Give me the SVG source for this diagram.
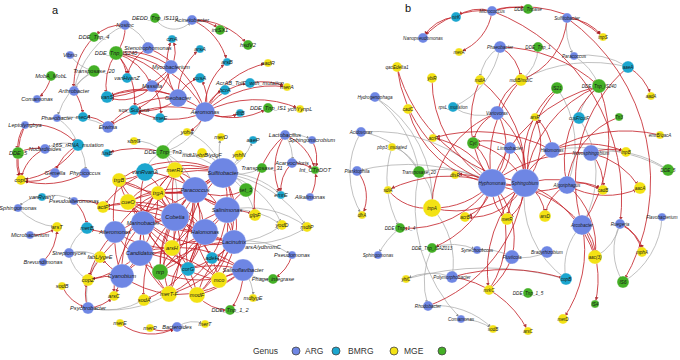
<svg xmlns="http://www.w3.org/2000/svg" width="680" height="360" viewBox="0 0 680 360">
<style>
.e{fill:none;stroke:#c42027;stroke-width:.95;opacity:.85;marker-end:url(#ar)}
.g{fill:none;stroke:#a6a6a6;stroke-width:.7;marker-end:url(#ag)}
.B{fill:#6e86e4}.C{fill:#1ba6cf}.Y{fill:#f3e214}.G{fill:#44b026}
circle{stroke:#ffffff;stroke-width:.3}
.t{font-family:"Liberation Sans",Arial,sans-serif;font-style:italic;font-size:5.6px;fill:#1a1a1a;text-anchor:middle;dominant-baseline:central}
.s{font-size:4.6px}
.L{font-family:"Liberation Sans",Arial,sans-serif;font-size:8.5px;fill:#333}
.P{font-family:"Liberation Sans",Arial,sans-serif;font-size:11px;fill:#111}
.lg{stroke:#444;stroke-width:.8}
</style>
<defs>
<marker id="ar" viewBox="0 0 6 6" refX="12" refY="3" markerWidth="3.6" markerHeight="3.6" markerUnits="userSpaceOnUse" orient="auto"><path d="M0,0 L6,3 L0,6z" fill="#a3161c"/></marker>
<marker id="ag" viewBox="0 0 6 6" refX="12" refY="3" markerWidth="3" markerHeight="3" markerUnits="userSpaceOnUse" orient="auto"><path d="M0,0 L6,3 L0,6z" fill="#8a8a8a"/></marker>
</defs>
<rect width="680" height="360" fill="#ffffff"/>
<text class="P" x="52" y="14">a</text>
<text class="P" x="405" y="12">b</text>
<g id="connectors">
<path class="g" d="M155,18 A22,22 0 0 0 192,20"/>
<path class="g" d="M70,55 A40,40 0 0 0 94,71"/>
<path class="g" d="M94,71 A40,40 0 0 0 74,91"/>
<path class="g" d="M94,71 A80,80 0 0 0 57,118"/>
<path class="g" d="M74,91 A90,90 0 0 1 125,25"/>
<path class="g" d="M125,25 A40,40 0 0 1 148,48"/>
<path class="g" d="M57,118 A50,50 0 0 1 78,145"/>
<path class="g" d="M57,118 A80,80 0 0 1 108,127"/>
<path class="g" d="M78,145 A40,40 0 0 0 45,149"/>
<path class="g" d="M78,145 A40,40 0 0 1 85,173"/>
<path class="g" d="M163,152 A40,40 0 0 0 134,141"/>
<path class="g" d="M163,152 A60,60 0 0 1 195,190"/>
<path class="g" d="M163,152 A80,80 0 0 1 223,173"/>
<path class="g" d="M163,152 A30,30 0 0 0 145,172"/>
<path class="g" d="M163,152 A30,30 0 0 1 175,170"/>
<path class="g" d="M163,152 A80,80 0 0 1 175,217"/>
<path class="g" d="M163,152 A60,60 0 0 0 205,112"/>
<path class="g" d="M187,132 A40,40 0 0 0 163,152"/>
<path class="g" d="M223,173 A60,60 0 0 1 221,137"/>
<path class="g" d="M223,173 A60,60 0 0 0 253,140"/>
<path class="g" d="M223,173 A30,30 0 0 0 239,155"/>
<path class="g" d="M223,173 A60,60 0 0 0 262,168"/>
<path class="g" d="M223,173 A80,80 0 0 1 281,195"/>
<path class="g" d="M223,173 A60,60 0 0 1 255,215"/>
<path class="g" d="M223,173 A90,90 0 0 1 282,225"/>
<path class="g" d="M223,173 A120,120 0 0 1 307,227"/>
<path class="g" d="M223,173 A30,30 0 0 1 246,190"/>
<path class="g" d="M223,173 A30,30 0 0 0 202,153"/>
<path class="g" d="M223,173 A60,60 0 0 0 187,132"/>
<path class="g" d="M227,210 A80,80 0 0 1 282,225"/>
<path class="g" d="M227,210 A100,100 0 0 1 307,227"/>
<path class="g" d="M234,242 A80,80 0 0 0 282,225"/>
<path class="g" d="M234,242 A100,100 0 0 0 307,227"/>
<path class="g" d="M234,242 A80,80 0 0 1 292,255"/>
<path class="g" d="M285,135 A40,40 0 0 1 292,163"/>
<path class="g" d="M285,135 A40,40 0 0 1 312,140"/>
<path class="g" d="M243,270 A40,40 0 0 1 253,298"/>
<path class="g" d="M243,270 A40,40 0 0 0 273,279"/>
<path class="g" d="M177,327 A30,30 0 0 1 205,324"/>
<path class="g" d="M88,308 A60,60 0 0 1 100,257"/>
<path class="g" d="M88,308 A120,120 0 0 0 169,294"/>
<path class="g" d="M88,308 A80,80 0 0 0 144,300"/>
<path class="g" d="M69,253 A40,40 0 0 0 88,280"/>
<path class="g" d="M69,253 A40,40 0 0 1 100,257"/>
<path class="g" d="M69,253 A40,40 0 0 1 87,228"/>
<path class="g" d="M18,208 A60,60 0 0 0 57,227"/>
<path class="g" d="M42,197 A40,40 0 0 1 74,201"/>
<path class="g" d="M42,197 A30,30 0 0 0 18,208"/>
<path class="e" d="M125,25 A40,40 0 0 0 94,37"/>
<path class="e" d="M125,25 A40,40 0 0 1 116,53"/>
<path class="e" d="M192,20 A40,40 0 0 1 220,30"/>
<path class="e" d="M192,20 A70,70 0 0 1 248,45"/>
<path class="e" d="M192,20 A60,60 0 0 1 227,62"/>
<path class="e" d="M94,37 A70,70 0 0 0 74,91"/>
<path class="e" d="M51,76 A40,40 0 0 1 37,99"/>
<path class="e" d="M74,91 A50,50 0 0 1 83,117"/>
<path class="e" d="M116,53 A70,70 0 0 1 171,67"/>
<path class="e" d="M116,53 A60,60 0 0 1 152,86"/>
<path class="e" d="M116,53 A90,90 0 0 1 178,98"/>
<path class="e" d="M116,53 A110,110 0 0 1 205,112"/>
<path class="e" d="M116,53 A70,70 0 0 1 134,110"/>
<path class="e" d="M116,53 A60,60 0 0 0 107,97"/>
<path class="e" d="M116,53 A40,40 0 0 1 127,78"/>
<path class="e" d="M148,48 A40,40 0 0 0 127,78"/>
<path class="e" d="M148,48 A100,100 0 0 1 205,112"/>
<path class="e" d="M171,67 A30,30 0 0 1 152,86"/>
<path class="e" d="M171,67 A90,90 0 0 1 107,97"/>
<path class="e" d="M171,67 A60,60 0 0 1 134,110"/>
<path class="e" d="M178,98 A80,80 0 0 0 107,97"/>
<path class="e" d="M178,98 A50,50 0 0 1 134,110"/>
<path class="e" d="M152,86 A40,40 0 0 1 107,97"/>
<path class="e" d="M152,86 A40,40 0 0 1 160,118"/>
<path class="e" d="M205,112 A100,100 0 0 0 107,97"/>
<path class="e" d="M205,112 A80,80 0 0 1 134,110"/>
<path class="e" d="M205,112 A60,60 0 0 1 250,83"/>
<path class="e" d="M205,112 A100,100 0 0 1 287,87"/>
<path class="e" d="M205,112 A90,90 0 0 1 268,63"/>
<path class="e" d="M205,112 A70,70 0 0 0 268,108"/>
<path class="e" d="M205,112 A110,110 0 0 1 300,109"/>
<path class="e" d="M205,112 A30,30 0 0 1 225,90"/>
<path class="e" d="M205,112 A40,40 0 0 0 200,78"/>
<path class="e" d="M205,112 A60,60 0 0 1 227,62"/>
<path class="e" d="M205,112 A40,40 0 0 0 240,113"/>
<path class="e" d="M178,98 A60,60 0 0 1 172,39"/>
<path class="e" d="M178,98 A60,60 0 0 1 200,49"/>
<path class="e" d="M178,98 A30,30 0 0 1 200,78"/>
<path class="e" d="M171,67 A30,30 0 0 0 172,39"/>
<path class="e" d="M205,112 A30,30 0 0 1 187,132"/>
<path class="e" d="M250,83 A60,60 0 0 1 287,87"/>
<path class="e" d="M205,112 A110,110 0 0 0 108,127"/>
<path class="e" d="M108,127 A30,30 0 0 0 83,117"/>
<path class="e" d="M178,98 A80,80 0 0 0 108,127"/>
<path class="e" d="M25,125 A40,40 0 0 0 18,153"/>
<path class="e" d="M25,125 A60,60 0 0 1 78,145"/>
<path class="e" d="M25,125 A80,80 0 0 0 21,180"/>
<path class="e" d="M78,145 A50,50 0 0 0 55,173"/>
<path class="e" d="M78,145 A80,80 0 0 1 21,180"/>
<path class="e" d="M18,153 A40,40 0 0 0 21,180"/>
<path class="e" d="M18,153 A40,40 0 0 1 45,149"/>
<path class="e" d="M55,173 A40,40 0 0 1 21,180"/>
<path class="e" d="M85,173 A80,80 0 0 1 21,180"/>
<path class="e" d="M45,149 A40,40 0 0 0 21,180"/>
<path class="e" d="M163,152 A100,100 0 0 0 107,153"/>
<path class="e" d="M285,135 A50,50 0 0 1 315,170"/>
<path class="e" d="M285,135 A90,90 0 0 0 255,215"/>
<path class="e" d="M285,135 A60,60 0 0 0 281,195"/>
<path class="e" d="M312,140 A40,40 0 0 1 315,170"/>
<path class="e" d="M292,163 A40,40 0 0 1 315,170"/>
<path class="e" d="M310,197 A40,40 0 0 0 315,170"/>
<path class="e" d="M292,163 A40,40 0 0 0 281,195"/>
<path class="e" d="M292,255 A40,40 0 0 1 273,279"/>
<path class="e" d="M243,270 A60,60 0 0 1 230,310"/>
<path class="e" d="M197,295 A40,40 0 0 0 230,310"/>
<path class="e" d="M120,323 A50,50 0 0 0 177,327"/>
<path class="e" d="M150,328 A30,30 0 0 0 177,327"/>
<path class="e" d="M88,308 A40,40 0 0 0 114,296"/>
<path class="e" d="M88,308 A40,40 0 0 1 88,280"/>
<path class="e" d="M62,286 A40,40 0 0 0 88,308"/>
<path class="e" d="M30,235 A40,40 0 0 0 57,227"/>
<path class="e" d="M43,262 A50,50 0 0 0 57,227"/>
<path class="e" d="M74,201 A40,40 0 0 1 103,207"/>
<path class="e" d="M74,201 A40,40 0 0 1 87,228"/>
<path class="e" d="M223,173 A100,100 0 0 0 119,180"/>
<path class="e" d="M223,173 A100,100 0 0 1 158,193"/>
<path class="e" d="M223,173 A100,100 0 0 0 128,202"/>
<path class="e" d="M223,173 A100,100 0 0 0 175,170"/>
<path class="e" d="M223,173 A100,100 0 0 0 172,248"/>
<path class="e" d="M223,173 A100,100 0 0 1 197,295"/>
<path class="e" d="M223,173 A100,100 0 0 1 219,280"/>
<path class="e" d="M223,173 A100,100 0 0 0 188,269"/>
<path class="e" d="M223,173 A100,100 0 0 0 160,272"/>
<path class="e" d="M223,173 A100,100 0 0 0 103,207"/>
<path class="e" d="M195,190 A100,100 0 0 1 119,180"/>
<path class="e" d="M195,190 A100,100 0 0 0 128,202"/>
<path class="e" d="M195,190 A100,100 0 0 1 103,207"/>
<path class="e" d="M195,190 A100,100 0 0 1 172,248"/>
<path class="e" d="M195,190 A100,100 0 0 0 169,294"/>
<path class="e" d="M195,190 A100,100 0 0 1 188,269"/>
<path class="e" d="M195,190 A100,100 0 0 1 160,272"/>
<path class="e" d="M195,190 A100,100 0 0 0 219,280"/>
<path class="e" d="M195,190 A100,100 0 0 0 145,172"/>
<path class="e" d="M175,217 A100,100 0 0 0 119,180"/>
<path class="e" d="M175,217 A100,100 0 0 1 158,193"/>
<path class="e" d="M175,217 A100,100 0 0 1 128,202"/>
<path class="e" d="M175,217 A100,100 0 0 0 103,207"/>
<path class="e" d="M175,217 A100,100 0 0 1 175,170"/>
<path class="e" d="M175,217 A100,100 0 0 1 219,280"/>
<path class="e" d="M175,217 A100,100 0 0 0 197,295"/>
<path class="e" d="M175,217 A100,100 0 0 1 169,294"/>
<path class="e" d="M175,217 A100,100 0 0 1 212,258"/>
<path class="e" d="M175,217 A100,100 0 0 0 160,272"/>
<path class="e" d="M175,217 A100,100 0 0 0 144,300"/>
<path class="e" d="M175,217 A100,100 0 0 0 88,280"/>
<path class="e" d="M227,210 A100,100 0 0 0 158,193"/>
<path class="e" d="M227,210 A100,100 0 0 0 128,202"/>
<path class="e" d="M227,210 A100,100 0 0 1 175,170"/>
<path class="e" d="M227,210 A100,100 0 0 1 172,248"/>
<path class="e" d="M227,210 A100,100 0 0 0 188,269"/>
<path class="e" d="M227,210 A100,100 0 0 1 197,295"/>
<path class="e" d="M227,210 A100,100 0 0 1 169,294"/>
<path class="e" d="M227,210 A100,100 0 0 0 160,272"/>
<path class="e" d="M205,232 A100,100 0 0 1 119,180"/>
<path class="e" d="M205,232 A100,100 0 0 0 158,193"/>
<path class="e" d="M205,232 A100,100 0 0 0 175,170"/>
<path class="e" d="M205,232 A100,100 0 0 1 128,202"/>
<path class="e" d="M205,232 A100,100 0 0 0 103,207"/>
<path class="e" d="M205,232 A100,100 0 0 0 169,294"/>
<path class="e" d="M205,232 A100,100 0 0 1 160,272"/>
<path class="e" d="M205,232 A100,100 0 0 0 188,269"/>
<path class="e" d="M205,232 A100,100 0 0 1 144,300"/>
<path class="e" d="M234,242 A100,100 0 0 1 158,193"/>
<path class="e" d="M234,242 A100,100 0 0 0 175,170"/>
<path class="e" d="M234,242 A100,100 0 0 0 172,248"/>
<path class="e" d="M234,242 A100,100 0 0 1 188,269"/>
<path class="e" d="M234,242 A100,100 0 0 0 197,295"/>
<path class="e" d="M234,242 A100,100 0 0 1 169,294"/>
<path class="e" d="M234,242 A100,100 0 0 0 160,272"/>
<path class="e" d="M234,242 A100,100 0 0 1 128,202"/>
<path class="e" d="M243,270 A100,100 0 0 0 172,248"/>
<path class="e" d="M243,270 A100,100 0 0 1 197,295"/>
<path class="e" d="M243,270 A100,100 0 0 1 169,294"/>
<path class="e" d="M243,270 A100,100 0 0 0 219,280"/>
<path class="e" d="M243,270 A100,100 0 0 0 188,269"/>
<path class="e" d="M243,270 A100,100 0 0 1 160,272"/>
<path class="e" d="M243,270 A100,100 0 0 0 212,258"/>
<path class="e" d="M143,223 A100,100 0 0 1 119,180"/>
<path class="e" d="M143,223 A100,100 0 0 0 128,202"/>
<path class="e" d="M143,223 A100,100 0 0 1 175,170"/>
<path class="e" d="M143,223 A100,100 0 0 0 172,248"/>
<path class="e" d="M143,223 A100,100 0 0 0 188,269"/>
<path class="e" d="M143,223 A100,100 0 0 0 169,294"/>
<path class="e" d="M143,223 A100,100 0 0 1 197,295"/>
<path class="e" d="M143,223 A100,100 0 0 0 219,280"/>
<path class="e" d="M143,223 A100,100 0 0 0 114,296"/>
<path class="e" d="M115,232 A100,100 0 0 1 119,180"/>
<path class="e" d="M115,232 A100,100 0 0 1 158,193"/>
<path class="e" d="M115,232 A100,100 0 0 0 175,170"/>
<path class="e" d="M115,232 A100,100 0 0 0 172,248"/>
<path class="e" d="M115,232 A100,100 0 0 0 160,272"/>
<path class="e" d="M115,232 A100,100 0 0 0 88,280"/>
<path class="e" d="M115,232 A60,60 0 0 1 87,228"/>
<path class="e" d="M140,253 A100,100 0 0 1 175,170"/>
<path class="e" d="M140,253 A100,100 0 0 0 158,193"/>
<path class="e" d="M140,253 A100,100 0 0 1 172,248"/>
<path class="e" d="M140,253 A100,100 0 0 1 219,280"/>
<path class="e" d="M140,253 A100,100 0 0 0 169,294"/>
<path class="e" d="M140,253 A100,100 0 0 1 188,269"/>
<path class="e" d="M140,253 A100,100 0 0 1 88,280"/>
<path class="e" d="M122,276 A100,100 0 0 1 158,193"/>
<path class="e" d="M122,276 A100,100 0 0 1 172,248"/>
<path class="e" d="M122,276 A100,100 0 0 0 169,294"/>
<path class="e" d="M122,276 A100,100 0 0 0 88,280"/>
<path class="e" d="M122,276 A100,100 0 0 1 114,296"/>
<path class="e" d="M122,276 A100,100 0 0 1 100,257"/>
<path class="e" d="M223,173 A100,100 0 0 0 195,190"/>
<path class="e" d="M195,190 A100,100 0 0 0 175,217"/>
<path class="e" d="M175,217 A100,100 0 0 0 205,232"/>
<path class="e" d="M227,210 A100,100 0 0 1 234,242"/>
<path class="e" d="M205,232 A100,100 0 0 0 234,242"/>
<path class="e" d="M143,223 A100,100 0 0 0 140,253"/>
<path class="e" d="M115,232 A100,100 0 0 0 122,276"/>
<path class="e" d="M140,253 A100,100 0 0 1 122,276"/>
<path class="e" d="M175,217 A100,100 0 0 1 143,223"/>
<path class="e" d="M223,173 A100,100 0 0 1 227,210"/>
<path class="e" d="M227,210 A60,60 0 0 1 255,215"/>
<path class="e" d="M246,190 A60,60 0 0 1 195,190"/>
<path class="e" d="M246,190 A60,60 0 0 0 227,210"/>
<path class="e" d="M145,172 A100,100 0 0 1 175,217"/>
<path class="e" d="M145,172 A100,100 0 0 0 143,223"/>
<path class="e" d="M145,172 A60,60 0 0 1 119,180"/>
<path class="g" d="M500,47 A40,40 0 0 0 480,80"/>
<path class="g" d="M500,47 A80,80 0 0 1 453,107"/>
<path class="g" d="M538,47 A40,40 0 0 1 521,80"/>
<path class="g" d="M574,56 A80,80 0 0 1 628,67"/>
<path class="g" d="M521,80 A150,150 0 0 1 628,67"/>
<path class="g" d="M574,56 A60,60 0 0 1 599,86"/>
<path class="g" d="M567,18 A60,60 0 0 0 574,56"/>
<path class="g" d="M375,97 A120,120 0 0 1 432,208"/>
<path class="g" d="M375,97 A120,120 0 0 1 419,172"/>
<path class="g" d="M453,107 A50,50 0 0 0 497,113"/>
<path class="g" d="M361,132 A80,80 0 0 1 419,172"/>
<path class="g" d="M361,132 A160,160 0 0 1 492,183"/>
<path class="g" d="M361,132 A80,80 0 0 0 362,215"/>
<path class="g" d="M392,147 A40,40 0 0 1 419,172"/>
<path class="g" d="M392,147 A100,100 0 0 0 400,228"/>
<path class="g" d="M419,172 A40,40 0 0 1 432,208"/>
<path class="g" d="M419,172 A100,100 0 0 1 492,183"/>
<path class="g" d="M419,172 A160,160 0 0 0 461,319"/>
<path class="g" d="M432,208 A80,80 0 0 1 452,277"/>
<path class="g" d="M668,170 A100,100 0 0 0 591,153"/>
<path class="g" d="M668,170 A180,180 0 0 0 552,150"/>
<path class="g" d="M557,88 A100,100 0 0 1 567,185"/>
<path class="g" d="M599,86 A50,50 0 0 0 579,118"/>
<path class="g" d="M579,118 A100,100 0 0 1 582,225"/>
<path class="g" d="M582,225 A60,60 0 0 0 566,279"/>
<path class="g" d="M620,224 A60,60 0 0 0 623,282"/>
<path class="g" d="M620,224 A50,50 0 0 1 595,257"/>
<path class="g" d="M662,217 A80,80 0 0 1 623,282"/>
<path class="g" d="M566,279 A100,100 0 0 1 525,183"/>
<path class="g" d="M452,277 A60,60 0 0 0 406,279"/>
<path class="g" d="M428,306 A80,80 0 0 1 493,329"/>
<path class="g" d="M512,257 A60,60 0 0 0 477,250"/>
<path class="g" d="M512,257 A60,60 0 0 0 547,252"/>
<path class="g" d="M400,228 A80,80 0 0 0 378,255"/>
<path class="g" d="M432,248 A80,80 0 0 0 428,306"/>
<path class="g" d="M432,248 A60,60 0 0 1 477,250"/>
<path class="g" d="M406,279 A300,300 0 0 1 566,279"/>
<path class="g" d="M461,319 A60,60 0 0 1 493,329"/>
<path class="g" d="M492,183 A200,200 0 0 0 357,171"/>
<path class="e" d="M492,11 A40,40 0 0 0 456,17"/>
<path class="e" d="M456,17 A40,40 0 0 0 423,38"/>
<path class="e" d="M492,11 A80,80 0 0 0 423,38"/>
<path class="e" d="M492,11 A50,50 0 0 1 459,52"/>
<path class="e" d="M492,11 A60,60 0 0 1 528,9"/>
<path class="e" d="M492,11 A120,120 0 0 1 603,37"/>
<path class="e" d="M492,11 A200,200 0 0 1 620,224"/>
<path class="e" d="M567,18 A70,70 0 0 1 521,80"/>
<path class="e" d="M567,18 A200,200 0 0 1 623,282"/>
<path class="e" d="M567,18 A50,50 0 0 1 603,37"/>
<path class="e" d="M500,47 A40,40 0 0 1 521,80"/>
<path class="e" d="M500,47 A150,150 0 0 1 599,86"/>
<path class="e" d="M628,67 A50,50 0 0 1 651,96"/>
<path class="e" d="M628,67 A150,150 0 0 0 582,225"/>
<path class="e" d="M521,80 A50,50 0 0 0 497,113"/>
<path class="e" d="M521,80 A120,120 0 0 0 492,183"/>
<path class="e" d="M397,67 A140,140 0 0 0 492,183"/>
<path class="e" d="M397,67 A160,160 0 0 0 525,183"/>
<path class="e" d="M432,78 A120,120 0 0 0 492,183"/>
<path class="e" d="M480,80 A100,100 0 0 0 492,183"/>
<path class="e" d="M480,80 A120,120 0 0 1 525,183"/>
<path class="e" d="M408,109 A100,100 0 0 0 492,183"/>
<path class="e" d="M497,113 A40,40 0 0 0 473,143"/>
<path class="e" d="M497,113 A60,60 0 0 1 492,183"/>
<path class="e" d="M497,113 A100,100 0 0 0 432,208"/>
<path class="e" d="M497,113 A80,80 0 0 1 525,183"/>
<path class="e" d="M357,171 A40,40 0 0 1 362,215"/>
<path class="e" d="M388,190 A50,50 0 0 0 432,208"/>
<path class="e" d="M492,183 A140,140 0 0 0 388,190"/>
<path class="e" d="M492,183 A80,80 0 0 1 432,208"/>
<path class="e" d="M492,183 A80,80 0 0 0 433,138"/>
<path class="e" d="M492,183 A60,60 0 0 0 455,175"/>
<path class="e" d="M492,183 A60,60 0 0 0 473,143"/>
<path class="e" d="M492,183 A40,40 0 0 1 465,217"/>
<path class="e" d="M492,183 A40,40 0 0 0 507,219"/>
<path class="e" d="M492,183 A100,100 0 0 1 400,228"/>
<path class="e" d="M492,183 A100,100 0 0 1 432,248"/>
<path class="e" d="M525,183 A80,80 0 0 0 473,143"/>
<path class="e" d="M525,183 A60,60 0 0 1 465,217"/>
<path class="e" d="M525,183 A40,40 0 0 1 545,216"/>
<path class="e" d="M525,183 A40,40 0 0 1 507,219"/>
<path class="e" d="M525,183 A60,60 0 0 0 535,117"/>
<path class="e" d="M525,183 A120,120 0 0 1 603,190"/>
<path class="e" d="M525,183 A120,120 0 0 1 595,257"/>
<path class="e" d="M525,183 A120,120 0 0 0 489,290"/>
<path class="e" d="M525,183 A100,100 0 0 1 432,208"/>
<path class="e" d="M525,183 A60,60 0 0 1 492,183"/>
<path class="e" d="M552,150 A50,50 0 0 0 535,117"/>
<path class="e" d="M552,150 A100,100 0 0 1 626,152"/>
<path class="e" d="M552,150 A100,100 0 0 0 507,219"/>
<path class="e" d="M552,150 A160,160 0 0 0 433,138"/>
<path class="e" d="M591,153 A50,50 0 0 1 626,152"/>
<path class="e" d="M591,153 A50,50 0 0 1 603,190"/>
<path class="e" d="M591,153 A80,80 0 0 1 640,188"/>
<path class="e" d="M591,153 A150,150 0 0 0 492,183"/>
<path class="e" d="M660,135 A150,150 0 0 0 552,150"/>
<path class="e" d="M557,88 A100,100 0 0 0 525,183"/>
<path class="e" d="M559,88 A110,110 0 0 0 529,183"/>
<path class="e" d="M599,86 A100,100 0 0 0 567,185"/>
<path class="e" d="M599,86 A120,120 0 0 0 525,183"/>
<path class="e" d="M599,86 A150,150 0 0 0 492,183"/>
<path class="e" d="M599,86 A150,150 0 0 1 582,225"/>
<path class="e" d="M619,117 A80,80 0 0 0 567,185"/>
<path class="e" d="M567,185 A40,40 0 0 1 603,190"/>
<path class="e" d="M567,185 A80,80 0 0 0 640,188"/>
<path class="e" d="M567,185 A40,40 0 0 0 545,216"/>
<path class="e" d="M567,185 A80,80 0 0 1 595,257"/>
<path class="e" d="M567,185 A100,100 0 0 1 492,183"/>
<path class="e" d="M582,225 A40,40 0 0 1 595,257"/>
<path class="e" d="M582,225 A120,120 0 0 1 563,319"/>
<path class="e" d="M582,225 A100,100 0 0 1 595,304"/>
<path class="e" d="M582,225 A120,120 0 0 0 492,183"/>
<path class="e" d="M620,224 A40,40 0 0 1 642,252"/>
<path class="e" d="M622,224 A50,50 0 0 1 644,252"/>
<path class="e" d="M452,277 A100,100 0 0 1 528,331"/>
<path class="e" d="M452,277 A200,200 0 0 1 566,279"/>
<path class="e" d="M428,306 A150,150 0 0 0 525,183"/>
<path class="e" d="M489,290 A100,100 0 0 0 492,183"/>
<path class="e" d="M489,290 A80,80 0 0 0 512,257"/>
<path class="e" d="M512,257 A80,80 0 0 0 492,183"/>
<path class="e" d="M510,148 A40,40 0 0 1 492,183"/>
<path class="e" d="M510,148 A40,40 0 0 0 473,143"/>
<path class="e" d="M510,148 A40,40 0 0 1 525,183"/>
</g>
<g id="nodes-a">
<g id="a-Nostoc"><circle class="B" cx="125" cy="25" r="5"/><text class="t" x="125" y="25">Nostoc</text></g>
<g id="a-Acinetobacter"><circle class="B" cx="192" cy="20" r="5"/><text class="t" x="192" y="20">Acinetobacter</text></g>
<g id="a-DEDD_Tnp_IS110"><circle class="G" cx="155" cy="18" r="5"/><text class="t" x="155" y="18">DEDD_Tnp_IS110</text></g>
<g id="a-DDE_Tnp_4"><circle class="G" cx="94" cy="37" r="5"/><text class="t" x="94" y="37">DDE_Tnp_4</text></g>
<g id="a-Stenotrophomonas"><circle class="B" cx="148" cy="48" r="6"/><text class="t" x="148" y="48">Stenotrophomonas</text></g>
<g id="a-DDE_Tnp_IS240"><circle class="G" cx="116" cy="53" r="7"/><text class="t" x="116" y="53">DDE_Tnp_IS240</text></g>
<g id="a-Vibrio"><circle class="B" cx="70" cy="55" r="4"/><text class="t" x="70" y="55">Vibrio</text></g>
<g id="a-Mycobacterium"><circle class="B" cx="171" cy="67" r="7"/><text class="t" x="171" y="67">Mycobacterium</text></g>
<g id="a-Transposase_20"><circle class="G" cx="94" cy="71" r="6"/><text class="t" x="94" y="71">Transposase_20</text></g>
<g id="a-MobA_MobL"><circle class="G" cx="51" cy="76" r="5"/><text class="t" x="51" y="76">MobA_MobL</text></g>
<g id="a-vanHvanZ"><circle class="C" cx="127" cy="78" r="5"/><text class="t" x="127" y="78">vanHvanZ</text></g>
<g id="a-Arthrobacter"><circle class="B" cx="74" cy="91" r="5"/><text class="t" x="74" y="91">Arthrobacter</text></g>
<g id="a-Massilia"><circle class="B" cx="152" cy="86" r="6"/><text class="t" x="152" y="86">Massilia</text></g>
<g id="a-vanS"><circle class="C" cx="107" cy="97" r="6"/><text class="t" x="107" y="97">vanS</text></g>
<g id="a-Comamonas"><circle class="B" cx="37" cy="99" r="4"/><text class="t" x="37" y="99">Comamonas</text></g>
<g id="a-czrA"><circle class="C" cx="172" cy="39" r="4"/><text class="t" x="172" y="39">czrA</text></g>
<g id="a-arsA"><circle class="C" cx="200" cy="49" r="4"/><text class="t" x="200" y="49">arsA</text></g>
<g id="a-intSX1"><circle class="G" cx="220" cy="30" r="5"/><text class="t" x="220" y="30">intSX1</text></g>
<g id="a-hsdV2"><circle class="G" cx="248" cy="45" r="5"/><text class="t" x="248" y="45">hsdV2</text></g>
<g id="a-arsB"><circle class="C" cx="227" cy="62" r="4"/><text class="t" x="227" y="62">arsB</text></g>
<g id="a-aadR"><circle class="Y" cx="268" cy="63" r="4"/><text class="t" x="268" y="63">aadR</text></g>
<g id="a-cusA"><circle class="C" cx="200" cy="78" r="5"/><text class="t" x="200" y="78">cusA</text></g>
<g id="a-AcrAB"><circle class="C" cx="250" cy="83" r="5"/><text class="t" x="250" y="83">AcrAB_TolC_with_mutation</text></g>
<g id="a-merA"><circle class="Y" cx="287" cy="87" r="4"/><text class="t" x="287" y="87">merA</text></g>
<g id="a-bcrA"><circle class="C" cx="225" cy="90" r="5"/><text class="t" x="225" y="90">bcrA</text></g>
<g id="a-Geobacter"><circle class="B" cx="178" cy="98" r="9"/><text class="t" x="178" y="98">Geobacter</text></g>
<g id="a-DDE_Tnp_IS1"><circle class="G" cx="268" cy="108" r="5"/><text class="t" x="268" y="108">DDE_Tnp_IS1</text></g>
<g id="a-ynpL"><circle class="Y" cx="300" cy="109" r="4"/><text class="t" x="300" y="109">ychYynpL</text></g>
<g id="a-soxSubunit"><circle class="C" cx="134" cy="110" r="5"/><text class="t" x="134" y="110">sox_Subunit</text></g>
<g id="a-Aeromonas"><circle class="B" cx="205" cy="112" r="10"/><text class="t" x="205" y="112">Aeromonas</text></g>
<g id="a-dltB"><circle class="C" cx="240" cy="113" r="4"/><text class="t" x="240" y="113">dltB</text></g>
<g id="a-smeE"><circle class="C" cx="160" cy="118" r="5"/><text class="t" x="160" y="118">smeE</text></g>
<g id="a-mecA"><circle class="C" cx="83" cy="117" r="5"/><text class="t" x="83" y="117">mecA</text></g>
<g id="a-Phaeobacter"><circle class="B" cx="57" cy="118" r="4"/><text class="t" x="57" y="118">Phaeobacter</text></g>
<g id="a-Leptolyngbya"><circle class="B" cx="25" cy="125" r="4"/><text class="t" x="25" y="125">Leptolyngbya</text></g>
<g id="a-Erwinia"><circle class="B" cx="108" cy="127" r="6"/><text class="t" x="108" y="127">Erwinia</text></g>
<g id="a-yohA"><circle class="Y" cx="187" cy="132" r="4"/><text class="t" x="187" y="132">yohA</text></g>
<g id="a-Lactobacillus"><circle class="B" cx="285" cy="135" r="5"/><text class="t" x="285" y="135">Lactobacillus</text></g>
<g id="a-merD"><circle class="Y" cx="221" cy="137" r="4"/><text class="t" x="221" y="137">merD</text></g>
<g id="a-aaeP"><circle class="C" cx="253" cy="140" r="4"/><text class="t" x="253" y="140">aaeP</text></g>
<g id="a-Sphingomicrobium"><circle class="B" cx="312" cy="140" r="4"/><text class="t" x="312" y="140">Sphingomicrobium</text></g>
<g id="a-sbnG"><circle class="Y" cx="134" cy="141" r="4"/><text class="t" x="134" y="141">sbnG</text></g>
<g id="a-16S"><circle class="C" cx="78" cy="145" r="6"/><text class="t" x="78" y="145">16S_rRNA_mutation</text></g>
<g id="a-Nocardioides"><circle class="B" cx="45" cy="149" r="5"/><text class="t" x="45" y="149">Nocardioides</text></g>
<g id="a-DDE_5"><circle class="G" cx="18" cy="153" r="6"/><text class="t" x="18" y="153">DDE_5</text></g>
<g id="a-fusB"><circle class="C" cx="107" cy="153" r="4"/><text class="t" x="107" y="153">fusB</text></g>
<g id="a-DDE_Tnp_Tn3"><circle class="G" cx="163" cy="152" r="7"/><text class="t" x="163" y="152">DDE_Tnp_Tn3</text></g>
<g id="a-mdtJ"><circle class="Y" cx="202" cy="153" r="5"/><text class="t" x="202" y="155">mdtJ/ebrB/ydgF</text></g>
<g id="a-ynhN"><circle class="Y" cx="239" cy="155" r="5"/><text class="t" x="239" y="155">ynhN</text></g>
<g id="a-Acaryochloris"><circle class="B" cx="292" cy="163" r="5"/><text class="t" x="292" y="163">Acaryochloris</text></g>
<g id="a-Transposase_31"><circle class="G" cx="262" cy="168" r="5"/><text class="t" x="262" y="168">Transposase_31</text></g>
<g id="a-Int_CTnDOT"><circle class="G" cx="315" cy="170" r="4"/><text class="t" x="315" y="170">Int_CTnDOT</text></g>
<g id="a-Gemella"><circle class="B" cx="55" cy="173" r="5"/><text class="t" x="55" y="173">Gemella</text></g>
<g id="a-Phycicoccus"><circle class="B" cx="85" cy="173" r="5"/><text class="t" x="85" y="173">Phycicoccus</text></g>
<g id="a-copC"><circle class="Y" cx="21" cy="180" r="5"/><text class="t" x="21" y="180">copC</text></g>
<g id="a-vanRvanA"><circle class="C" cx="145" cy="172" r="9"/><text class="t" x="145" y="172">vanRvanA</text></g>
<g id="a-merR1"><circle class="Y" cx="175" cy="170" r="8"/><text class="t" x="175" y="170">merR1</text></g>
<g id="a-trgB"><circle class="Y" cx="119" cy="180" r="7"/><text class="t" x="119" y="180">trgB</text></g>
<g id="a-trgA"><circle class="Y" cx="158" cy="193" r="7"/><text class="t" x="158" y="193">trgA</text></g>
<g id="a-tet_3"><circle class="G" cx="246" cy="190" r="7"/><text class="t" x="246" y="190">tet_3</text></g>
<g id="a-emrE"><circle class="C" cx="281" cy="195" r="4"/><text class="t" x="281" y="195">emrE</text></g>
<g id="a-Alkalimonas"><circle class="B" cx="310" cy="197" r="4"/><text class="t" x="310" y="197">Alkalimonas</text></g>
<g id="a-vanRvanY"><circle class="C" cx="42" cy="197" r="4"/><text class="t" x="42" y="197">vanRvanY</text></g>
<g id="a-Pseudoalteromonas"><circle class="B" cx="74" cy="201" r="4"/><text class="t" x="74" y="201">Pseudoalteromonas</text></g>
<g id="a-cueO"><circle class="Y" cx="128" cy="202" r="8"/><text class="t" x="128" y="202">cueO</text></g>
<g id="a-actP"><circle class="Y" cx="103" cy="207" r="6"/><text class="t" x="103" y="207">actP</text></g>
<g id="a-Sphingomonas"><circle class="B" cx="18" cy="208" r="4"/><text class="t" x="18" y="208">Sphingomonas</text></g>
<g id="a-Sulfitobacter"><circle class="B" cx="223" cy="173" r="15"/><text class="t" x="223" y="173">Sulfitobacter</text></g>
<g id="a-Paracoccus"><circle class="B" cx="195" cy="190" r="13"/><text class="t" x="195" y="190">Paracoccus</text></g>
<g id="a-Salinimonas"><circle class="B" cx="227" cy="210" r="13"/><text class="t" x="227" y="210">Salinimonas</text></g>
<g id="a-glpF"><circle class="Y" cx="255" cy="215" r="6"/><text class="t" x="255" y="215">glpF</text></g>
<g id="a-Cobetia"><circle class="B" cx="175" cy="217" r="14"/><text class="t" x="175" y="217">Cobetia</text></g>
<g id="a-Marinobacter"><circle class="B" cx="143" cy="223" r="12"/><text class="t" x="143" y="223">Marinobacter</text></g>
<g id="a-yodD"><circle class="Y" cx="282" cy="225" r="5"/><text class="t" x="282" y="225">yodD</text></g>
<g id="a-mdtP"><circle class="Y" cx="307" cy="227" r="5"/><text class="t" x="307" y="227">mdtP</text></g>
<g id="a-arsT"><circle class="Y" cx="57" cy="227" r="5"/><text class="t" x="57" y="227">arsT</text></g>
<g id="a-merB"><circle class="C" cx="87" cy="228" r="6"/><text class="t" x="87" y="228">merB</text></g>
<g id="a-Alteromonas"><circle class="B" cx="115" cy="232" r="11"/><text class="t" x="115" y="232">Alteromonas</text></g>
<g id="a-Halomonas"><circle class="B" cx="205" cy="232" r="13"/><text class="t" x="205" y="232">Halomonas</text></g>
<g id="a-Microbacterium"><circle class="B" cx="30" cy="235" r="4"/><text class="t" x="30" y="235">Microbacterium</text></g>
<g id="a-Lacinutrix"><circle class="B" cx="234" cy="242" r="12"/><text class="t" x="234" y="242">Lacinutrix</text></g>
<g id="a-arsAydbromC"><text class="t" x="263" y="247">arsA/ydbromC</text></g>
<g id="a-arsH"><circle class="Y" cx="172" cy="248" r="8"/><text class="t" x="172" y="248">arsH</text></g>
<g id="a-Candidatus"><circle class="B" cx="140" cy="253" r="13"/><text class="t" x="140" y="253">Candidatus</text></g>
<g id="a-Streptomyces"><circle class="B" cx="69" cy="253" r="5"/><text class="t" x="69" y="253">Streptomyces</text></g>
<g id="a-Pseudomonas"><circle class="B" cx="292" cy="255" r="4"/><text class="t" x="292" y="255">Pseudomonas</text></g>
<g id="a-fabL"><circle class="Y" cx="100" cy="257" r="6"/><text class="t" x="100" y="257">fabL/ygeE</text></g>
<g id="a-adeH"><circle class="C" cx="212" cy="258" r="6"/><text class="t" x="212" y="258">adeH</text></g>
<g id="a-Brevundimonas"><circle class="B" cx="43" cy="262" r="4"/><text class="t" x="43" y="262">Brevundimonas</text></g>
<g id="a-corG"><circle class="C" cx="188" cy="269" r="7"/><text class="t" x="188" y="269">corG</text></g>
<g id="a-Salinoflavibacter"><circle class="B" cx="243" cy="270" r="11"/><text class="t" x="243" y="270">Salinoflavibacter</text></g>
<g id="a-nrp"><circle class="G" cx="160" cy="272" r="8"/><text class="t" x="160" y="272">nrp</text></g>
<g id="a-Cyanobium"><circle class="B" cx="122" cy="276" r="12"/><text class="t" x="122" y="276">Cyanobium</text></g>
<g id="a-Phage_integrase"><circle class="G" cx="273" cy="279" r="5"/><text class="t" x="273" y="279">Phage_integrase</text></g>
<g id="a-copZ"><circle class="Y" cx="88" cy="280" r="6"/><text class="t" x="88" y="280">copZ</text></g>
<g id="a-mco"><circle class="Y" cx="219" cy="280" r="8"/><text class="t" x="219" y="280">mco</text></g>
<g id="a-sodB"><circle class="Y" cx="62" cy="286" r="4"/><text class="t" x="62" y="286">sodB</text></g>
<g id="a-merT-F"><circle class="Y" cx="169" cy="294" r="8"/><text class="t" x="169" y="294">merT-F</text></g>
<g id="a-modF"><circle class="Y" cx="197" cy="295" r="8"/><text class="t" x="197" y="295">modF</text></g>
<g id="a-arsC"><circle class="Y" cx="114" cy="296" r="5"/><text class="t" x="114" y="296">arsC</text></g>
<g id="a-mdtygE"><circle class="Y" cx="253" cy="298" r="4"/><text class="t" x="253" y="298">mdtygE</text></g>
<g id="a-sodA"><circle class="Y" cx="144" cy="300" r="6"/><text class="t" x="144" y="300">sodA</text></g>
<g id="a-Psychrobacter"><circle class="B" cx="88" cy="308" r="6"/><text class="t" x="88" y="308">Psychrobacter</text></g>
<g id="a-DDE_Tnp_1_2"><circle class="G" cx="230" cy="310" r="5"/><text class="t" x="230" y="310">DDE_Tnp_1_2</text></g>
<g id="a-merE"><circle class="Y" cx="120" cy="323" r="4"/><text class="t" x="120" y="323">merE</text></g>
<g id="a-merT"><circle class="Y" cx="205" cy="324" r="4"/><text class="t" x="205" y="324">merT</text></g>
<g id="a-Bacteroides"><circle class="B" cx="177" cy="327" r="5"/><text class="t" x="177" y="327">Bacteroides</text></g>
<g id="a-merP"><circle class="Y" cx="150" cy="328" r="4"/><text class="t" x="150" y="328">merP</text></g>
</g>
<g id="nodes-b">
<g id="b-DDE_Tnpase"><circle class="G" cx="528" cy="9" r="5"/><text class="t s" x="528" y="9">DDE_Tnpase</text></g>
<g id="b-Micrococcus"><circle class="B" cx="492" cy="11" r="5"/><text class="t s" x="492" y="11">Micrococcus</text></g>
<g id="b-nirK"><circle class="C" cx="456" cy="17" r="5"/><text class="t s" x="456" y="17">nirK</text></g>
<g id="b-Sulfitobacter"><circle class="B" cx="567" cy="18" r="5"/><text class="t s" x="567" y="18">Sulfitobacter</text></g>
<g id="b-tnpS"><circle class="Y" cx="603" cy="37" r="4"/><text class="t s" x="603" y="37">tnpS</text></g>
<g id="b-Nanopseudomonas"><circle class="B" cx="423" cy="38" r="5"/><text class="t s" x="423" y="38">Nanopseudomonas</text></g>
<g id="b-Phaeobacter"><circle class="B" cx="500" cy="47" r="6"/><text class="t s" x="500" y="47">Phaeobacter</text></g>
<g id="b-DDE_Tnp_1"><circle class="G" cx="538" cy="47" r="5"/><text class="t s" x="538" y="47">DDE_Tnp_1</text></g>
<g id="b-merA"><circle class="Y" cx="459" cy="52" r="4"/><text class="t s" x="459" y="52">merA</text></g>
<g id="b-Paracoccus"><circle class="B" cx="574" cy="56" r="4"/><text class="t s" x="574" y="56">Paracoccus</text></g>
<g id="b-qacEdelta1"><circle class="Y" cx="397" cy="67" r="5"/><text class="t s" x="397" y="67">qacEdelta1</text></g>
<g id="b-aaeA"><circle class="C" cx="628" cy="67" r="6"/><text class="t s" x="628" y="67">aaeA</text></g>
<g id="b-ybiR"><circle class="Y" cx="432" cy="78" r="5"/><text class="t s" x="432" y="78">ybiR</text></g>
<g id="b-mdtA"><circle class="Y" cx="480" cy="80" r="5"/><text class="t s" x="480" y="80">mdtA</text></g>
<g id="b-mdtBmdtC"><circle class="Y" cx="521" cy="80" r="6"/><text class="t s" x="521" y="80">mdtB/mdtC</text></g>
<g id="b-DDE_Tnp_IS240"><circle class="G" cx="599" cy="86" r="7"/><text class="t s" x="599" y="86">DDE_Tnp_IS240</text></g>
<g id="b-IS21"><circle class="G" cx="557" cy="88" r="6"/><text class="t s" x="557" y="88">IS21</text></g>
<g id="b-aadA"><circle class="Y" cx="651" cy="96" r="4"/><text class="t s" x="651" y="96">aadA</text></g>
<g id="b-Hydrogenophaga"><circle class="B" cx="375" cy="97" r="5"/><text class="t s" x="375" y="97">Hydrogenophaga</text></g>
<g id="b-rpsL"><circle class="C" cx="453" cy="107" r="5"/><text class="t s" x="453" y="107">rpsL_mutation</text></g>
<g id="b-cadC"><circle class="Y" cx="408" cy="109" r="5"/><text class="t s" x="408" y="109">cadC</text></g>
<g id="b-Variovorax"><circle class="B" cx="497" cy="113" r="7"/><text class="t s" x="497" y="113">Variovorax</text></g>
<g id="b-arsR"><circle class="Y" cx="535" cy="117" r="4"/><text class="t s" x="535" y="117">arsR</text></g>
<g id="b-Tn3"><circle class="G" cx="619" cy="117" r="4"/><text class="t s" x="619" y="117">Tn3</text></g>
<g id="b-cusF"><circle class="C" cx="579" cy="118" r="6"/><text class="t s" x="579" y="118">cusF/cutF</text></g>
<g id="b-Acidovorax"><circle class="B" cx="361" cy="132" r="5"/><text class="t s" x="361" y="132">Acidovorax</text></g>
<g id="b-emrB"><circle class="Y" cx="660" cy="135" r="4"/><text class="t s" x="660" y="135">emrB/qacA</text></g>
<g id="b-acrF"><circle class="Y" cx="433" cy="138" r="4"/><text class="t s" x="433" y="138">acrF</text></g>
<g id="b-Cyt"><circle class="G" cx="473" cy="143" r="6"/><text class="t s" x="473" y="143">Cyt</text></g>
<g id="b-pbp3"><circle class="Y" cx="392" cy="147" r="4"/><text class="t s" x="392" y="147">pbp3_mutated</text></g>
<g id="b-Limnobacter"><circle class="B" cx="510" cy="148" r="6"/><text class="t s" x="510" y="148">Limnobacter</text></g>
<g id="b-Halomonas"><circle class="B" cx="552" cy="150" r="8"/><text class="t s" x="552" y="150">Halomonas</text></g>
<g id="b-tnpB"><circle class="Y" cx="626" cy="152" r="5"/><text class="t s" x="626" y="152">tnpB</text></g>
<g id="b-Novosphingobium"><circle class="B" cx="591" cy="153" r="8"/><text class="t s" x="591" y="153">Novosphingobium</text></g>
<g id="b-DDE_5"><circle class="G" cx="668" cy="170" r="6"/><text class="t s" x="668" y="170">DDE_5</text></g>
<g id="b-Planktophila"><circle class="B" cx="357" cy="171" r="5"/><text class="t s" x="357" y="171">Planktophila</text></g>
<g id="b-Transposase_20"><circle class="G" cx="419" cy="172" r="6"/><text class="t s" x="419" y="172">Transposase_20</text></g>
<g id="b-dtsR"><circle class="Y" cx="455" cy="175" r="4"/><text class="t s" x="455" y="175">dtsR</text></g>
<g id="b-Hyphomonas"><circle class="B" cx="492" cy="183" r="14"/><text class="t s" x="492" y="183">Hyphomonas</text></g>
<g id="b-Sphingobium"><circle class="B" cx="525" cy="183" r="14"/><text class="t s" x="525" y="183">Sphingobium</text></g>
<g id="b-Algoriphagus"><circle class="B" cx="567" cy="185" r="9"/><text class="t s" x="567" y="185">Algoriphagus</text></g>
<g id="b-aacA"><circle class="Y" cx="640" cy="188" r="6"/><text class="t s" x="640" y="188">aacA</text></g>
<g id="b-sdiA"><circle class="Y" cx="388" cy="190" r="4"/><text class="t s" x="388" y="190">sdiA</text></g>
<g id="b-cadB"><circle class="Y" cx="603" cy="190" r="5"/><text class="t s" x="603" y="190">cadB</text></g>
<g id="b-tnpA"><circle class="Y" cx="432" cy="208" r="9"/><text class="t s" x="432" y="208">tnpA</text></g>
<g id="b-dfrA"><circle class="Y" cx="362" cy="215" r="4"/><text class="t s" x="362" y="215">dfrA</text></g>
<g id="b-arsD"><circle class="Y" cx="545" cy="216" r="6"/><text class="t s" x="545" y="216">arsD</text></g>
<g id="b-acrB"><circle class="Y" cx="465" cy="217" r="5"/><text class="t s" x="465" y="217">acrB</text></g>
<g id="b-Flavobacterium"><circle class="B" cx="662" cy="217" r="4"/><text class="t s" x="662" y="217">Flavobacterium</text></g>
<g id="b-merR"><circle class="Y" cx="507" cy="219" r="6"/><text class="t s" x="507" y="219">merR</text></g>
<g id="b-Ruegeria"><circle class="B" cx="620" cy="224" r="5"/><text class="t s" x="620" y="224">Ruegeria</text></g>
<g id="b-Arcobacter"><circle class="B" cx="582" cy="225" r="10"/><text class="t s" x="582" y="225">Arcobacter</text></g>
<g id="b-DDE_Tnp_1_4"><circle class="G" cx="400" cy="228" r="5"/><text class="t s" x="400" y="228">DDE_Tnp_1_4</text></g>
<g id="b-DDE_Tnp_ISAZ013"><circle class="G" cx="432" cy="248" r="5"/><text class="t s" x="432" y="248">DDE_Tnp_ISAZ013</text></g>
<g id="b-Synechococcus"><circle class="B" cx="477" cy="250" r="4"/><text class="t s" x="477" y="250">Synechococcus</text></g>
<g id="b-Bradyrhizobium"><circle class="B" cx="547" cy="252" r="6"/><text class="t s" x="547" y="252">Bradyrhizobium</text></g>
<g id="b-mphA"><circle class="Y" cx="642" cy="252" r="5"/><text class="t s" x="642" y="252">mphA</text></g>
<g id="b-Sphingomonas"><circle class="B" cx="378" cy="255" r="4"/><text class="t s" x="378" y="255">Sphingomonas</text></g>
<g id="b-Fluviicola"><circle class="B" cx="512" cy="257" r="7"/><text class="t s" x="512" y="257">Fluviicola</text></g>
<g id="b-aac3"><circle class="Y" cx="595" cy="257" r="7"/><text class="t s" x="595" y="257">aac(3)</text></g>
<g id="b-Polymorphobacter"><circle class="B" cx="452" cy="277" r="6"/><text class="t s" x="452" y="277">Polymorphobacter</text></g>
<g id="b-yhiC"><circle class="Y" cx="406" cy="279" r="4"/><text class="t s" x="406" y="279">yhiC</text></g>
<g id="b-copB"><circle class="C" cx="566" cy="279" r="6"/><text class="t s" x="566" y="279">copB</text></g>
<g id="b-IS6"><circle class="G" cx="623" cy="282" r="6"/><text class="t s" x="623" y="282">IS6</text></g>
<g id="b-mrkC"><circle class="Y" cx="489" cy="290" r="5"/><text class="t s" x="489" y="290">mrkC</text></g>
<g id="b-DDE_Tnp_1_5"><circle class="G" cx="528" cy="293" r="5"/><text class="t s" x="528" y="293">DDE_Tnp_1_5</text></g>
<g id="b-IS4"><circle class="G" cx="595" cy="304" r="4"/><text class="t s" x="595" y="304">IS4</text></g>
<g id="b-Rhodobacter"><circle class="B" cx="428" cy="306" r="5"/><text class="t s" x="428" y="306">Rhodobacter</text></g>
<g id="b-Comamonas"><circle class="B" cx="461" cy="319" r="4"/><text class="t s" x="461" y="319">Comamonas</text></g>
<g id="b-merD"><circle class="Y" cx="563" cy="319" r="5"/><text class="t s" x="563" y="319">merD</text></g>
<g id="b-sodB"><circle class="Y" cx="493" cy="329" r="4"/><text class="t s" x="493" y="329">sodB</text></g>
<g id="b-arsC"><circle class="Y" cx="528" cy="331" r="4"/><text class="t s" x="528" y="331">arsC</text></g>
</g>
<g id="legend">
<text class="L" x="253" y="354">Genus</text>
<circle class="B lg" cx="296" cy="351" r="4"/>
<text class="L" x="305" y="354">ARG</text>
<circle class="C lg" cx="336" cy="351" r="4"/>
<text class="L" x="348" y="354">BMRG</text>
<circle class="Y lg" cx="394" cy="351" r="4"/>
<text class="L" x="404" y="354">MGE</text>
<circle class="G lg" cx="442" cy="351" r="4"/>
</g>
</svg>
